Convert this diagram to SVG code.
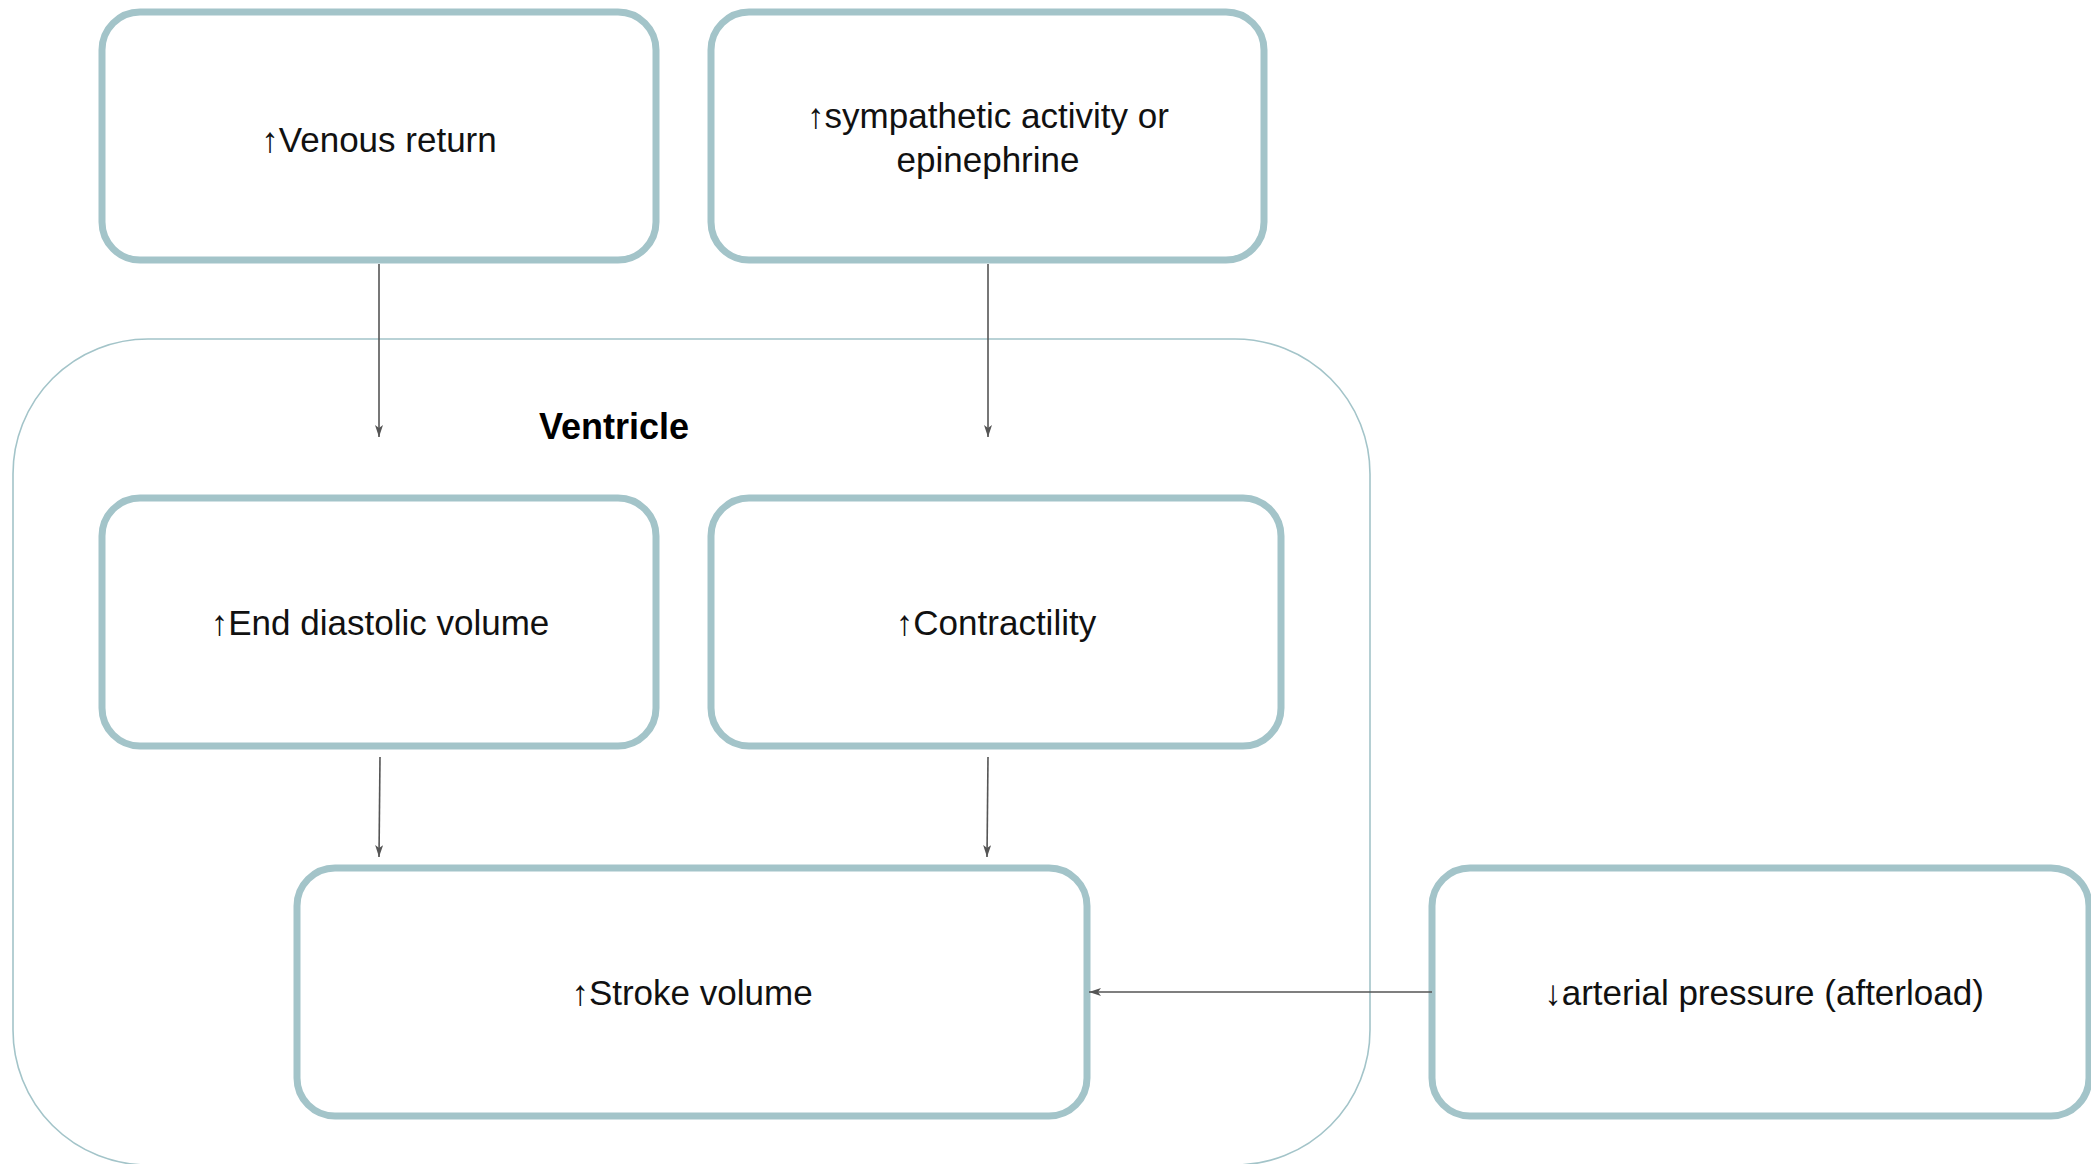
<svg xmlns="http://www.w3.org/2000/svg" width="2091" height="1164" viewBox="0 0 2091 1164">
  <style>
    .node { fill: #ffffff; stroke: #a3c4c9; stroke-width: 7; }
    .label { font-family: "Liberation Sans", Arial, sans-serif; font-size: 35px; fill: #111111; text-anchor: middle; }
    .title { font-family: "Liberation Sans", Arial, sans-serif; font-size: 36px; font-weight: bold; fill: #000000; text-anchor: middle; }
    .edge { stroke: #555555; stroke-width: 1.6; fill: none; }
    .container { fill: none; stroke: #a3c4c9; stroke-width: 1.6; }
  </style>
  <defs>
    <marker id="arrow" markerUnits="userSpaceOnUse" markerWidth="13" markerHeight="9" refX="12" refY="4" orient="auto">
      <path d="M0,0 L12,4 L0,8 L3,4 Z" fill="#555555"/>
    </marker>
  </defs>
  <rect width="2091" height="1164" fill="#ffffff"/>

  <g id="ventricle">
    <rect class="container" x="13" y="339" width="1357" height="826" rx="135" ry="135"/>
    <text class="title" x="614" y="439">Ventricle</text>
  </g>

  <g id="venous-return">
    <rect class="node" x="102" y="12" width="554" height="248" rx="38" ry="38"/>
    <text class="label" x="379" y="152">↑Venous return</text>
  </g>

  <g id="sympathetic">
    <rect class="node" x="711" y="12" width="553" height="248" rx="38" ry="38"/>
    <text class="label" x="988" y="128">↑sympathetic activity or</text>
    <text class="label" x="988" y="172">epinephrine</text>
  </g>

  <g id="end-diastolic-volume">
    <rect class="node" x="102" y="498" width="554" height="248" rx="38" ry="38"/>
    <text class="label" x="380" y="635">↑End diastolic volume</text>
  </g>

  <g id="contractility">
    <rect class="node" x="711" y="498" width="570" height="248" rx="38" ry="38"/>
    <text class="label" x="996" y="635">↑Contractility</text>
  </g>

  <g id="stroke-volume">
    <rect class="node" x="297" y="868" width="790" height="248" rx="38" ry="38"/>
    <text class="label" x="692" y="1005">↑Stroke volume</text>
  </g>

  <g id="arterial-pressure">
    <rect class="node" x="1432" y="868" width="657" height="248" rx="38" ry="38"/>
    <text class="label" x="1764" y="1005">↓arterial pressure (afterload)</text>
  </g>

  <g id="connectors">
    <line class="edge" x1="379" y1="264" x2="379" y2="437" marker-end="url(#arrow)"/>
    <line class="edge" x1="988" y1="264" x2="988" y2="437" marker-end="url(#arrow)"/>
    <line class="edge" x1="380" y1="757" x2="379" y2="857" marker-end="url(#arrow)"/>
    <line class="edge" x1="988" y1="757" x2="987" y2="857" marker-end="url(#arrow)"/>
    <line class="edge" x1="1432" y1="992" x2="1089" y2="992" marker-end="url(#arrow)"/>
  </g>
</svg>
